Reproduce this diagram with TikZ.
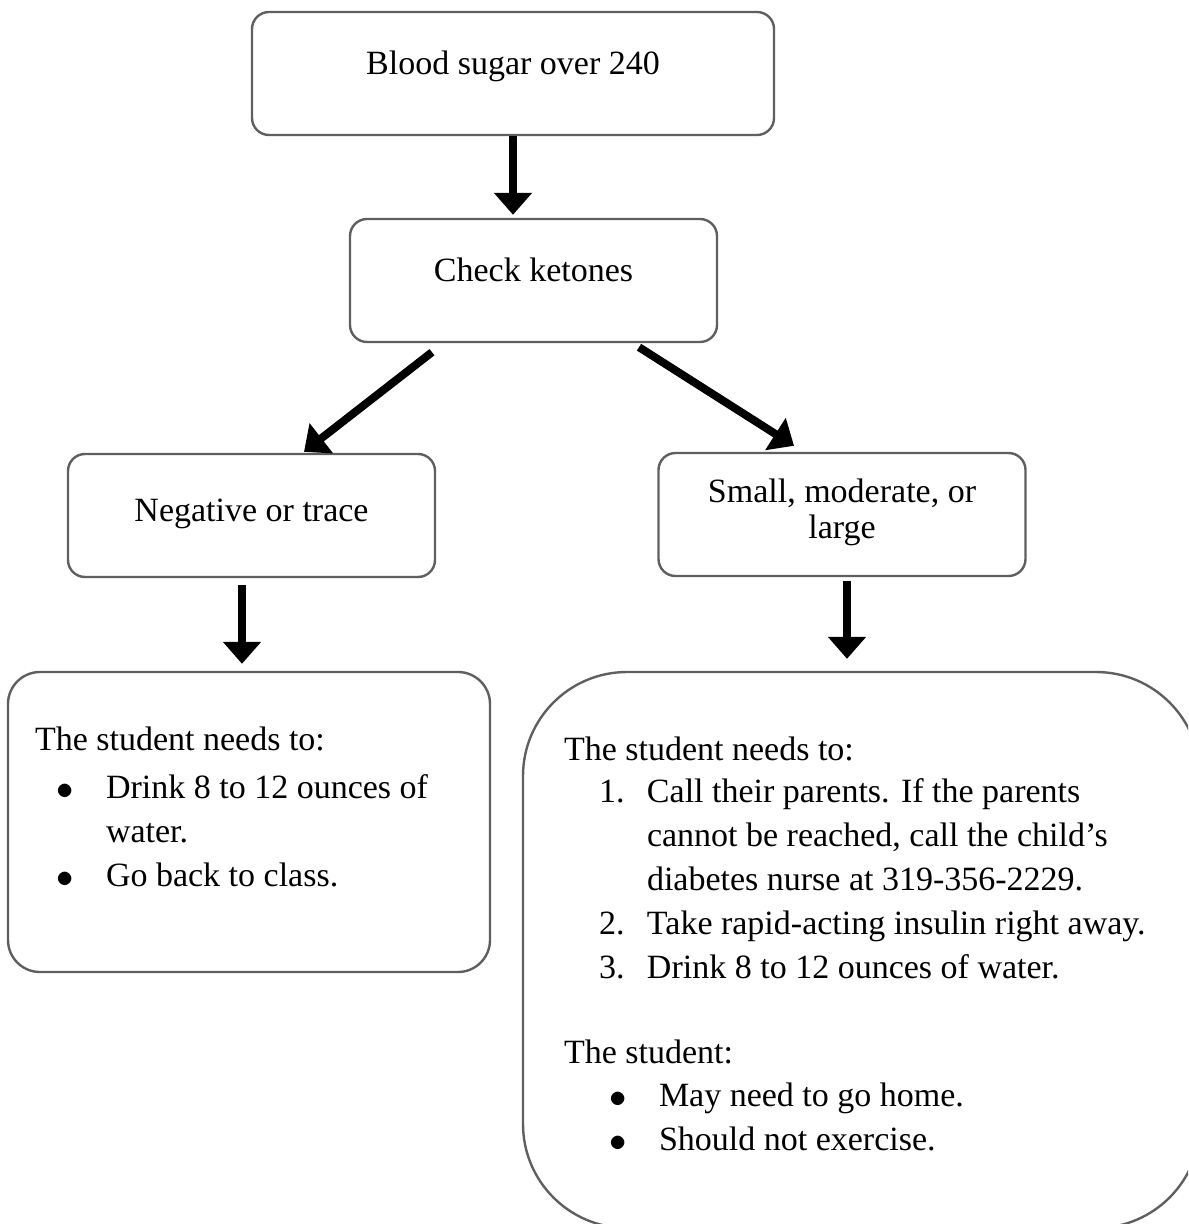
\documentclass[tikz,border=0pt]{standalone}
\usepackage{fontspec}
\setmainfont{Liberation Serif}
\usetikzlibrary{arrows.meta, positioning}

\definecolor{boxgray}{RGB}{95,95,95}
% indent, label width, label
\newcommand{\entry}[3]{\hspace*{#1}\makebox[#2][l]{#3}}
\newcommand{\dotmark}{\raisebox{-0.5pt}{\fontsize{18.5}{18.5}\selectfont$\bullet$}}

\begin{document}
\begin{tikzpicture}[
		font=\fontsize{17}{22}\selectfont,
		>={Triangle[width=18.5pt,length=11pt]},
		box/.style={rectangle, rounded corners=8.5pt, draw=boxgray, line width=1.2pt, align=center, minimum width=183.5pt, minimum height=61.5pt},
		oneline/.style={text height=12pt, text depth=11pt},
		listbox/.style={rectangle, draw=boxgray, line width=1.2pt, inner ysep=0pt},
		flow/.style={->, line width=4pt}
		]
		
		% page frame
		\useasboundingbox (0,0) rectangle (594pt,-612pt);
		\clip (0,0) rectangle (594pt,-612pt);
		
		% Top node - blood sugar
		\node[box, oneline, minimum width=261pt] (sugar) at (256.5pt,-36.75pt) {Blood sugar over 240};
		
		% Ketone check
		\node[box, oneline, below=40.8pt of sugar, xshift=10.25pt] (ketones) {Check ketones};
		
		% Two results
		\node[box, text height=14pt, text depth=8pt, below=54.8pt of ketones, xshift=-141pt] (negative) {Negative or trace};
		\node[box, font=\fontsize{17}{18}\selectfont, below=54.3pt of ketones, xshift=154.25pt] (positive) {Small, moderate, or\\large\rule[-6pt]{0pt}{6pt}};
		
		% What to do (left)
		\node[listbox, rounded corners=16pt, inner xsep=13.5pt, below=46.3pt of negative, xshift=-1.25pt] (negsteps) {%
			\parbox[c][150pt][t]{214pt}{\rule{0pt}{39.2pt}The student needs to:\\[2pt]
				\entry{10.5pt}{25pt}{\dotmark}Drink 8 to 12 ounces of\\
				\hspace*{35.5pt}water.\\
				\entry{10.5pt}{25pt}{\dotmark}Go back to class.}};
		
		% What to do (right)
		\node[listbox, rounded corners=52pt, inner xsep=20.5pt, below=46.8pt of positive, xshift=9.75pt] (possteps) {%
			\parbox[c][278pt][t]{297.5pt}{\rule{0pt}{44.25pt}The student needs to:\\[-1pt]
				\entry{17.5pt}{24pt}{1.}Call their parents. If the parents\\
				\hspace*{41.5pt}cannot be reached, call the child’s\\
				\hspace*{41.5pt}diabetes nurse at 319-356-2229.\\
				\entry{17.5pt}{24pt}{2.}Take rapid-acting insulin right away.\\
				\entry{17.5pt}{24pt}{3.}Drink 8 to 12 ounces of water.\\[20.5pt]
				The student:\\[-0.5pt]
				\entry{22.5pt}{25pt}{\dotmark}May need to go home.\\
				\entry{22.5pt}{25pt}{\dotmark}Should not exercise.}};
		
		% Arrows
		\draw[flow, shorten >=1.5pt] (sugar) -- (sugar.south |- ketones.north);
		\draw[flow] ([shift={(-50.75pt,-4.5pt)}]ketones.south) -- ([shift={(26.25pt,0.5pt)}]negative.north);
		\draw[flow] ([shift={(52.75pt,-2pt)}]ketones.south) -- ([shift={(-24pt,3pt)}]positive.north);
		\draw[flow] ([shift={(-4.75pt,-3.5pt)}]negative.south) -- ([shift={(-3.5pt,3.5pt)}]negsteps.north);
		\draw[flow] ([shift={(2.5pt,-2pt)}]positive.south) -- ([shift={(-7.25pt,6pt)}]possteps.north);
		
	\end{tikzpicture}
\end{document}
